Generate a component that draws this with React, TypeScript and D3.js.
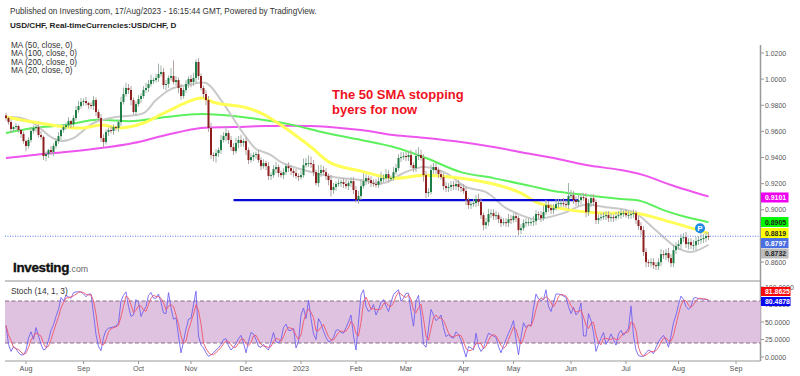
import React from "react";
import * as d3 from "d3";

const closes = [
.9702,.9671,.9618,.9633,.9641,.961,.958,.9526,.9488,.9534,.9603,.9626,.9633,.9572,.9557,.9411,.9426,.9457,.9442,.9488,
.9526,.9564,.961,.9633,.9648,.9679,.9656,.9702,.9763,.9794,.9825,.9832,.9817,.9802,.9794,.984,.9748,.9702,.9549,.9518,
.9595,.961,.9603,.9633,.9626,.9671,.9825,.9886,.9932,.9917,.984,.9748,.9809,.9848,.9871,.9917,.9932,.9963,.9993,.9993,
1.0009,1.0039,1.0054,.9955,.9963,1.0009,1.0024,.9978,.9993,.9932,.9871,.9917,.9963,1.0001,.9978,1.0009,1.0131,1.0024,.9932,.9886,
.984,.9626,.9419,.9411,.9434,.9457,.9534,.9564,.9587,.9534,.948,.9449,.9511,.9534,.9511,.9526,.9457,.938,.9403,.9419,
.9426,.938,.9334,.9357,.9334,.9258,.9265,.9311,.9327,.9281,.9265,.9288,.9334,.9319,.9296,.9281,.9258,.925,.9265,.9342,
.9357,.9357,.935,.9288,.9204,.9281,.9304,.9288,.9258,.9227,.9151,.9174,.9197,.9204,.9212,.9197,.9181,.9204,.9219,.9151,
.9074,.9105,.9181,.9219,.9242,.9227,.9204,.9197,.9189,.9219,.9242,.9242,.9273,.9242,.9242,.9288,.9319,.9396,.9403,.9411,
.9403,.9419,.9342,.9319,.9411,.9419,.9396,.9265,.9128,.9135,.9304,.9327,.9304,.9273,.925,.9181,.9166,.9174,.9189,.9181,
.9197,.9174,.9166,.9143,.9074,.9036,.9043,.9051,.9082,.9059,.8959,.8882,.8905,.8967,.8974,.8951,.8959,.8928,.8898,.8905,
.8898,.8928,.8921,.8951,.8936,.8844,.8859,.8898,.8905,.8905,.8905,.8913,.8967,.8959,.8936,.8982,.9036,.9013,.8997,.9013,
.9043,.9051,.9051,.9043,.9036,.9105,.9112,.9074,.9059,.9074,.9097,.9089,.8982,.9051,.9089,.9059,.8921,.8936,.8944,.8951,
.8959,.8936,.8944,.8936,.8951,.8959,.8974,.8974,.8959,.8959,.8967,.8974,.8921,.8875,.8844,.8676,.8599,.8591,.8599,.8576,
.8568,.8599,.866,.8653,.8668,.863,.8591,.8691,.8722,.8737,.8783,.879,.8737,.8752,.8729,.8729,.876,.8768,.8775,.8783,
.8798,.8797];

// Wick lengths above the body and below it, in tenths of a cent (0.001).
const upperWicks = [
2,1,2,1,2,1,1,2,1,2,3,2,1,2,3,1,2,1,3,2,
2,3,1,2,2,3,1,2,3,4,3,2,3,1,2,3,2,2,3,3,
2,2,3,2,1,2,4,5,4,3,3,2,2,3,2,3,4,3,4,2,
3,8,5,3,3,2,6,12,3,2,3,2,3,2,3,4,2,3,2,2,
3,3,4,2,3,2,4,3,5,2,3,3,4,3,4,2,3,2,3,2,
2,3,2,3,2,3,2,3,4,2,2,3,2,3,2,2,3,2,3,5,
4,6,5,3,2,6,4,3,3,2,4,3,2,3,2,3,4,2,3,3,
3,4,5,6,3,2,3,3,4,3,5,3,4,3,2,4,3,3,4,3,
3,3,4,2,5,6,4,3,3,3,4,3,3,2,3,3,3,3,3,3,
2,3,2,3,3,2,2,3,3,4,3,2,3,4,3,3,3,2,2,3,
3,4,3,2,3,2,3,3,3,3,3,4,3,2,3,5,4,3,3,3,
4,3,3,4,3,10,4,3,3,4,3,3,4,3,3,3,2,3,3,3,
3,3,3,2,3,3,3,2,3,3,2,3,2,3,3,3,3,2,3,3,
2,3,4,3,3,4,3,4,3,3,3,3,4,3,3,4,3,3,6,3,
3,3];
const lowerWicks = [
2,2,3,2,2,2,3,2,4,2,2,2,3,2,2,3,4,3,2,3,
2,2,3,2,2,2,3,2,2,2,2,3,2,3,2,3,3,2,3,4,
2,3,2,3,2,3,3,2,2,3,4,2,3,2,3,2,2,3,2,3,
2,3,2,3,4,3,2,2,3,4,3,2,2,3,4,3,4,3,2,3,
4,3,3,4,5,3,3,2,4,3,3,3,2,4,3,3,4,3,2,3,
3,2,3,2,3,3,3,2,3,3,2,3,2,3,3,3,2,3,2,2,
2,3,3,3,2,3,3,2,3,4,5,3,3,2,3,3,2,3,3,3,
2,3,3,2,3,3,3,2,2,2,3,3,2,3,2,2,2,2,3,2,
3,3,2,3,3,3,2,5,4,3,2,3,3,3,2,3,3,3,3,3,
3,3,3,2,4,3,3,2,3,3,3,4,3,3,3,3,3,3,3,2,
3,3,3,2,3,4,3,2,3,3,3,3,3,3,3,2,2,3,3,3,
2,3,3,2,2,3,2,3,3,3,3,2,4,3,3,3,3,3,2,2,
3,3,3,3,2,2,3,3,2,3,3,3,3,3,4,3,4,3,3,3,
3,3,3,3,4,3,3,3,3,3,4,3,3,4,3,4,4,3,3,3,
3,3];

const ma200Bars = [0,11,24,38,51,64,78,91,104,122,142,155,168,182,195,210,219,232,246,255,266,281];
const ma200Vals = [.9396,.9419,.9442,.9472,.9511,.9572,.9626,.9633,.9641,.9641,.961,.9572,.9549,.9518,.948,.9426,.9396,.9342,.9304,.9265,.9189,.9101];
const ma100Bars = [0,11,24,35,51,64,78,91,106,115,128,142,155,168,182,195,210,219,232,246,254,263,272,281];
const ma100Vals = [.9587,.9626,.9648,.9687,.9679,.971,.9733,.9717,.9679,.9648,.9587,.9534,.948,.9396,.9288,.9242,.9181,.9143,.9112,.9082,.9066,.8997,.8944,.8905];
const ma50Bars = [0,11,24,31,38,46,55,64,78,84,95,102,110,122,130,142,155,167,182,195,206,212,226,239,252,266,281];
const ma50Vals = [.971,.9671,.9633,.9626,.9648,.9626,.9664,.9748,.9855,.9817,.9786,.974,.9648,.948,.9357,.9296,.9242,.9265,.9242,.9197,.9128,.9059,.8997,.8974,.8974,.8905,.8819];
const ma20Bars = [0,6,11,18,22,27,35,44,55,60,66,73,80,86,94,100,102,106,110,119,131,142,151,159,167,176,184,192,200,206,212,223,231,240,251,259,268,274,281];
const ma20Vals = [.971,.9702,.9664,.9557,.9526,.9549,.9664,.971,.974,.984,.9924,.9955,.997,.984,.961,.9465,.9449,.9419,.9365,.9304,.925,.9227,.9204,.9281,.9327,.9281,.9174,.9135,.9013,.8959,.8928,.8974,.9036,.902,.8982,.8859,.8714,.8676,.8732];

const stochK = [
45,18,8,15,12,6,3,3,10,27,36,25,42,30,18,10,12,24,38,46,
58,68,85,80,88,86,84,92,93,93,93,90,86,90,90,62,32,15,9,28,
38,41,42,43,44,49,80,88,93,72,58,60,82,78,58,66,72,88,92,84,
84,90,78,63,62,92,70,54,56,30,6,22,40,54,55,75,94,30,17,13,
6,1,3,6,10,13,18,25,26,16,10,14,19,26,31,20,6,22,35,33,
25,15,14,18,13,10,22,35,22,20,25,42,47,38,38,41,13,22,60,70,
55,81,55,33,25,55,48,37,28,22,23,28,38,39,35,34,42,50,60,30,
10,50,89,96,72,65,68,75,60,68,78,82,73,65,78,89,93,96,80,84,
91,91,65,44,80,88,58,18,14,40,68,60,52,55,60,42,29,32,28,27,
36,32,24,12,0,15,13,10,34,15,8,13,24,34,32,30,28,15,6,16,
25,34,42,52,25,3,28,49,42,46,44,70,90,83,81,82,96,72,65,78,
90,90,89,87,85,72,62,71,60,64,77,30,30,62,52,35,8,18,27,35,
18,24,33,25,17,33,38,31,36,41,73,30,10,2,1,1,6,10,8,5,
14,22,27,31,24,14,30,49,60,75,87,82,72,68,72,84,85,83,83,82.7,
82.3,80.4878];

const monthBars = [8,31,53,74,96,118,140,160,183,203,226,248,269,292];
const monthLabels = ["Aug","Sep","Oct","Nov","Dec","2023","Feb","Mar","Apr","May","Jun","Jul","Aug","Sep"];
const priceTicks = [1.02,1.0,0.98,0.96,0.94,0.92,0.9,0.86];
const stochTicks = [0,25,50,75,100];
const legendLines = ["MA (50, close, 0)","MA (100, close, 0)","MA (200, close, 0)","MA (20, close, 0)"];
const supportLevel = 0.9074;
const supportBars = [91,229];
const lastPrice = 0.8797;
const tagLevels = [0.9094, 0.8906, 0.8822, 0.8745, 0.8665];
const priceTags = ["0.9101","0.8905","0.8819","0.8797","0.8732"];
const tagFills = ["#f000f0","#00f800","#ffff00","#4a6fe3","#bbbbbb"];
const tagInks = ["#fff","#222","#222","#fff","#222"];
const stochTagLabels = ["81.8625","80.4878"];
const stochTagLevels = [93.6, 79.3];
const stochTagFills = ["#f80808","#0808f0"];

const FONT = "'Liberation Sans', Arial, sans-serif";
const x = d3.scaleLinear().domain([0, 281]).range([6, 708.5]);
const y = d3.scaleLinear().domain([0.86, 1.02]).range([262, 53]);
const ys = d3.scaleLinear().domain([0, 100]).range([357, 287]);
const RIGHT = 760.5;
const LEFT = 5;

const maPath = (bars: number[], vals: number[]) =>
  d3.line<number>().x((b) => x(b)).y((_, i) => y(vals[i])).curve(d3.curveCatmullRom.alpha(0.5))(bars) || "";
// %D of a stochastic is the 3-period average of %K.
const stochD = stochK.map((_, i) => d3.mean(stochK.slice(Math.max(0, i - 2), i + 1)) as number);
const stochPath = (vals: number[]) =>
  d3.line<number>().x((_, i) => x(i)).y((v) => ys(v))(vals) || "";

export default function App() {
  return (
    <svg width={800} height={376} style={{ position: "fixed", left: 0, top: 0, background: "#fff", fontFamily: FONT }}>
      <text x={10} y={13.5} fontSize={8.2} fill="#333">Published on Investing.com, 17/Aug/2023 - 16:15:44 GMT, Powered by TradingView.</text>
      <text x={10} y={28} fontSize={8.1} fontWeight={700} fill="#222">USD/CHF, Real-timeCurrencies:USD/CHF, D</text>
      {legendLines.map((t, i) => (
        <text key={t} x={11} y={48 + i * 8.3} fontSize={8.2} fill="#333">{t}</text>
      ))}

      <path d={maPath(ma200Bars, ma200Vals)} fill="none" stroke="#ee55ee" strokeWidth={2} />
      <path d={maPath(ma100Bars, ma100Vals)} fill="none" stroke="#5cf05c" strokeWidth={2} />
      <path d={maPath(ma20Bars, ma20Vals)} fill="none" stroke="#c9c9c9" strokeWidth={2} />
      <path d={maPath(ma50Bars, ma50Vals)} fill="none" stroke="#ffff55" strokeWidth={3} />

      <line x1={x(supportBars[0])} x2={x(supportBars[1])} y1={y(supportLevel)} y2={y(supportLevel)} stroke="#0808d8" strokeWidth={2.4} />
      <line x1={LEFT} x2={RIGHT} y1={y(lastPrice)} y2={y(lastPrice)} stroke="#5577ee" strokeWidth={1} strokeDasharray="1 1.5" />

      {closes.map((c, i) => {
        const o = i === 0 ? c + 0.002 : closes[i - 1];
        const up = c >= o;
        const top = Math.max(o, c);
        const bot = Math.min(o, c);
        return (
          <g key={i}>
            <line x1={x(i)} x2={x(i)} y1={y(top + upperWicks[i] * 0.001)} y2={y(bot - lowerWicks[i] * 0.001)} stroke={up ? "#9db5a6" : "#b5a2a2"} strokeWidth={1} />
            <rect x={x(i) - 1} width={2} y={y(top)} height={Math.max(1, y(bot) - y(top))} fill={up ? "#1f7d46" : "#8f1f1f"} />
          </g>
        );
      })}

      <circle cx={x(277.6)} cy={y(0.8859)} r={5} fill="#1e88e5" />
      <text x={x(277.6)} y={y(0.8859) + 2.8} fontSize={8} fontWeight={700} fill="#fff" textAnchor="middle">P</text>

      <text x={332} y={99} fontSize={13} fontWeight={700} fill="#ee1122">The 50 SMA stopping</text>
      <text x={332} y={114} fontSize={13} fontWeight={700} fill="#ee1122">byers for now</text>

      <text x={13} y={271.5} fontSize={13.4} fontWeight={700} fill="#111" stroke="#111" strokeWidth={0.35} letterSpacing={-0.3}>
        Investing<tspan fontSize={8.8} fontWeight={400} fill="#666" stroke="none" letterSpacing={0}>.com</tspan>
      </text>

      <line x1={LEFT} x2={RIGHT} y1={281} y2={281} stroke="#b5b5b5" strokeWidth={1.6} />
      <line x1={LEFT} x2={RIGHT} y1={361} y2={361} stroke="#999" strokeWidth={1} />
      <line x1={RIGHT} x2={RIGHT} y1={45} y2={361} stroke="#999" strokeWidth={1.5} />

      {priceTicks.map((p) => (
        <g key={p}>
          <line x1={RIGHT} x2={RIGHT + 3.5} y1={y(p)} y2={y(p)} stroke="#999" />
          <text x={765} y={y(p) + 2.5} fontSize={6.9} fill="#555">{d3.format(".4f")(p)}</text>
        </g>
      ))}

      {priceTags.map((t, i) => (
        <g key={t}>
          <rect x={761} width={27.5} y={y(tagLevels[i]) - 5} height={10} fill={tagFills[i]} />
          <text x={765} y={y(tagLevels[i]) + 2.5} fontSize={6.9} fontWeight={700} fill={tagInks[i]}>{t}</text>
        </g>
      ))}

      <rect x={LEFT} width={RIGHT - LEFT} y={ys(80)} height={ys(20) - ys(80)} fill="#dfc2e0" />
      <line x1={LEFT} x2={RIGHT} y1={ys(80)} y2={ys(80)} stroke="#8a6a8a" strokeDasharray="4 2.5" />
      <line x1={LEFT} x2={RIGHT} y1={ys(20)} y2={ys(20)} stroke="#8a6a8a" strokeDasharray="4 2.5" />
      <path d={stochPath(stochK)} fill="none" stroke="#6a5cf0" strokeWidth={1} strokeOpacity={0.85} />
      <path d={stochPath(stochD)} fill="none" stroke="#f0556a" strokeWidth={1} strokeOpacity={0.9} />
      <text x={11} y={294} fontSize={8.3} fill="#333">Stoch (14, 1, 3)</text>

      {stochTicks.map((v) => (
        <g key={v}>
          <line x1={RIGHT} x2={RIGHT + 3.5} y1={ys(v)} y2={ys(v)} stroke="#999" />
          <text x={765} y={ys(v) + 2.5} fontSize={6.9} fill="#555">{d3.format(".4f")(v)}</text>
        </g>
      ))}
      {stochTagLabels.map((t, i) => (
        <g key={t}>
          <rect x={761} width={29.5} y={ys(stochTagLevels[i]) - 4.5} height={9} fill={stochTagFills[i]} />
          <text x={765} y={ys(stochTagLevels[i]) + 2.5} fontSize={6.9} fontWeight={700} fill="#fff">{t}</text>
        </g>
      ))}

      {monthBars.map((b, i) => (
        <g key={i}>
          <line x1={x(b)} x2={x(b)} y1={361} y2={364} stroke="#999" />
          <text x={x(b)} y={371} fontSize={7.2} fill="#555" textAnchor="middle">{monthLabels[i]}</text>
        </g>
      ))}
    </svg>
  );
}
